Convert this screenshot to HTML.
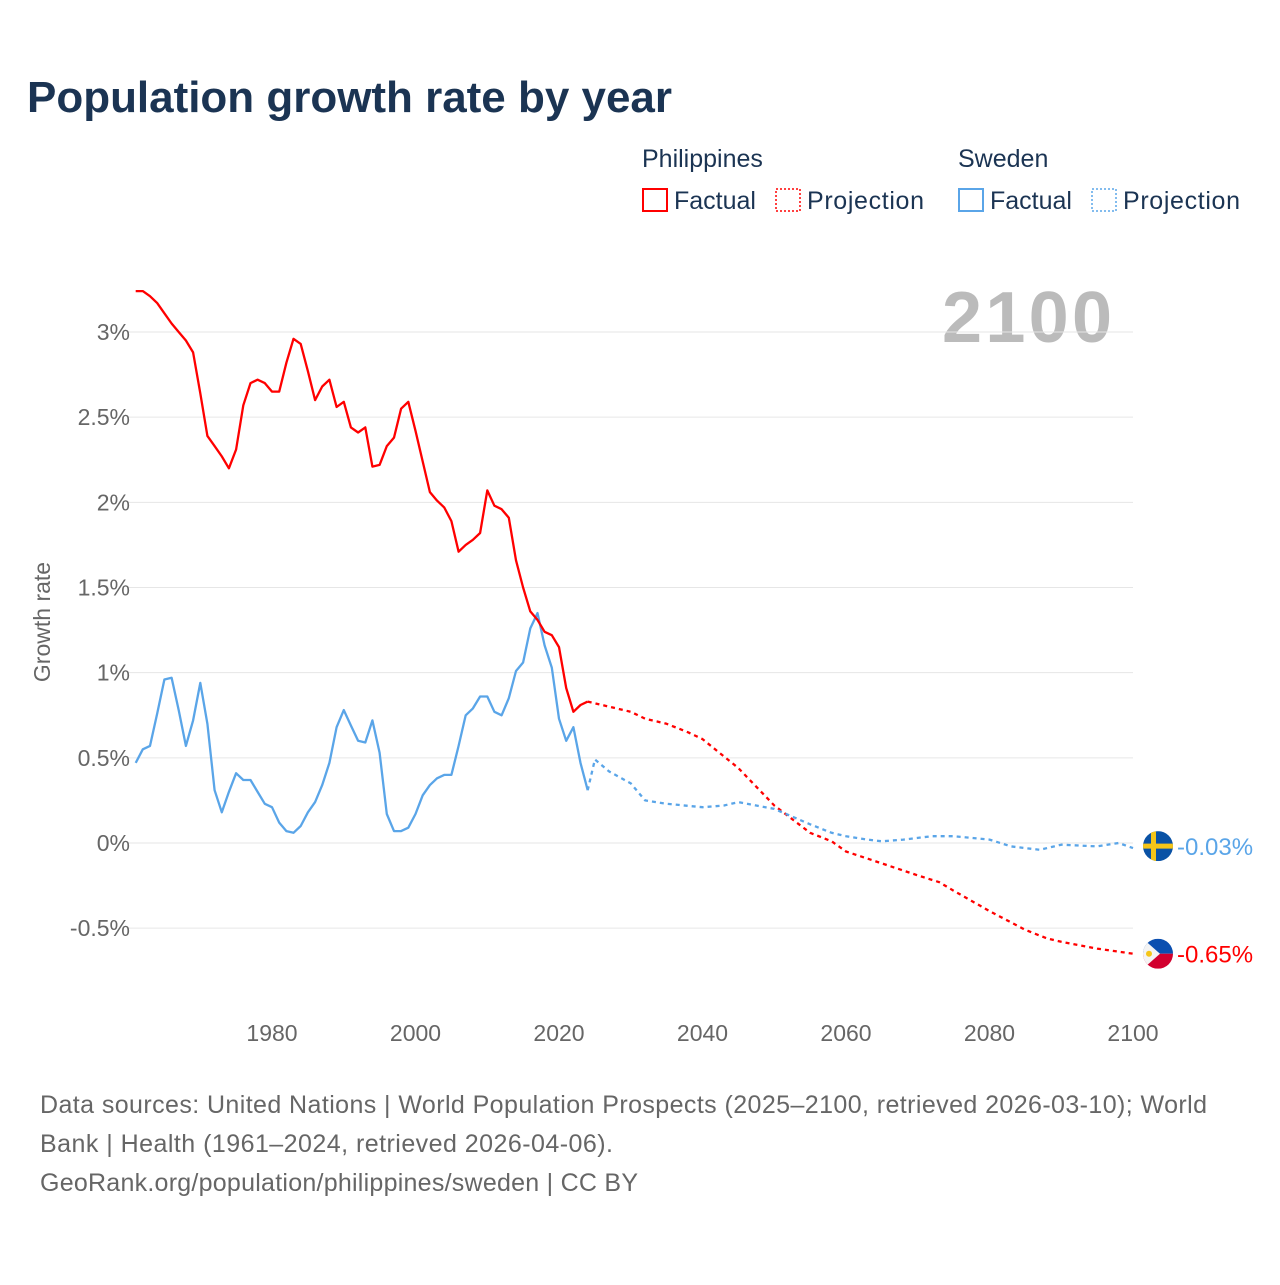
<!DOCTYPE html>
<html><head><meta charset="utf-8">
<style>
body{margin:0;background:#fff;font-family:"Liberation Sans",sans-serif;}
svg text{font-family:"Liberation Sans",sans-serif;}
</style></head>
<body>
<svg id="chart" width="1280" height="1280" viewBox="0 0 1280 1280">
<text x="27" y="112" font-size="44" font-weight="bold" fill="#1b3453" textLength="645">Population growth rate by year</text>
<g font-size="25" fill="#1b3453">
<text x="642" y="167" fill="#1b3453">Philippines</text>
<text x="958" y="167" fill="#1b3453">Sweden</text>
<g><rect x="643" y="189" width="24" height="22" fill="none" stroke="#f00" stroke-width="2"/><text x="674" y="209" fill="#1b3453">Factual</text></g>
<g><rect x="776" y="189" width="24" height="22" fill="none" stroke="#f00" stroke-width="1.5" stroke-dasharray="2,2"/><text x="807" y="209" fill="#1b3453" textLength="117">Projection</text></g>
<g><rect x="959" y="189" width="24" height="22" fill="none" stroke="#5aa5e8" stroke-width="2"/><text x="990" y="209" fill="#1b3453">Factual</text></g>
<g><rect x="1092" y="189" width="24" height="22" fill="none" stroke="#5aa5e8" stroke-width="1.5" stroke-dasharray="2,2"/><text x="1123" y="209" fill="#1b3453" textLength="117">Projection</text></g>
</g>
<text x="1112" y="342" font-size="72" font-weight="bold" fill="#bbb" text-anchor="end" textLength="170">2100</text>
<text transform="translate(50,622) rotate(-90)" font-size="23" fill="#666" text-anchor="middle">Growth rate</text>
<g id="grid"></g><g id="series"></g>
<text x="40" y="1113" font-size="25" fill="#666" textLength="1167">Data sources: United Nations | World Population Prospects (2025–2100, retrieved 2026-03-10); World</text>
<text x="40" y="1152" font-size="25" fill="#666" textLength="573">Bank | Health (1961–2024, retrieved 2026-04-06).</text>
<text x="40" y="1191" font-size="25" fill="#666" textLength="598">GeoRank.org/population/philippines/sweden | CC BY</text>
</svg>
<script>
const yTicks=[-0.5,0,0.5,1,1.5,2,2.5,3];
const yTickLabels=["-0.5%","0%","0.5%","1%","1.5%","2%","2.5%","3%"];
const xTicks=[1980,2000,2020,2040,2060,2080,2100];
const factYears=[];for(let y=1961;y<=2024;y++)factYears.push(y);
const phFactual=[3.24,3.24,3.21,3.17,3.11,3.05,3.00,2.95,2.88,2.64,2.39,2.33,2.27,2.20,2.31,2.57,2.70,2.72,2.70,2.65,2.65,2.82,2.96,2.93,2.77,2.60,2.68,2.72,2.56,2.59,2.44,2.41,2.44,2.21,2.22,2.33,2.38,2.55,2.59,2.42,2.24,2.06,2.01,1.97,1.89,1.71,1.75,1.78,1.82,2.07,1.98,1.96,1.91,1.66,1.50,1.36,1.31,1.24,1.22,1.15,0.91,0.77,0.81,0.83];
const seFactual=[0.47,0.55,0.57,0.76,0.96,0.97,0.78,0.57,0.72,0.94,0.70,0.31,0.18,0.30,0.41,0.37,0.37,0.30,0.23,0.21,0.12,0.07,0.06,0.10,0.18,0.24,0.34,0.47,0.68,0.78,0.69,0.60,0.59,0.72,0.53,0.17,0.07,0.07,0.09,0.17,0.28,0.34,0.38,0.40,0.40,0.57,0.75,0.79,0.86,0.86,0.77,0.75,0.85,1.01,1.06,1.26,1.35,1.16,1.03,0.73,0.60,0.68,0.47,0.31];
const phProjYears=[2024,2027,2030,2032,2035,2038,2040,2045,2050,2055,2058,2060,2065,2070,2073,2075,2080,2085,2088,2090,2095,2100];
const phProj=[0.83,0.80,0.77,0.73,0.70,0.65,0.61,0.44,0.22,0.06,0.01,-0.05,-0.12,-0.19,-0.23,-0.28,-0.40,-0.51,-0.56,-0.58,-0.62,-0.65];
const seProjYears=[2024,2025,2027,2030,2032,2035,2040,2043,2045,2050,2055,2058,2060,2063,2065,2068,2072,2075,2080,2083,2087,2090,2095,2098,2100];
const seProj=[0.31,0.49,0.42,0.35,0.25,0.23,0.21,0.22,0.24,0.20,0.11,0.06,0.04,0.02,0.01,0.02,0.04,0.04,0.02,-0.02,-0.04,-0.01,-0.02,0,-0.03];
const X=y=>272+(y-1980)*(1133-272)/120;
const Y=v=>843-v*170.33;
const NS="http://www.w3.org/2000/svg";
function mk(t,a){const e=document.createElementNS(NS,t);for(const k in a)e.setAttribute(k,a[k]);return e;}
const grid=document.getElementById('grid');
yTicks.forEach((v,i)=>{
 const l=mk('line',{x1:128,x2:1133,y1:Y(v),y2:Y(v),stroke:'#e6e6e6','stroke-width':1});
 
 
 grid.appendChild(l);
 const t=mk('text',{x:130,y:Y(v)+8,'font-size':23,fill:'#666','text-anchor':'end'});
 t.textContent=yTickLabels[i];
 
 
 grid.appendChild(t);
});
xTicks.forEach(v=>{
 const t=mk('text',{x:X(v),y:1041,'font-size':23,fill:'#666','text-anchor':'middle'});
 t.textContent=v;
 
 
 grid.appendChild(t);
});
const S=document.getElementById('series');
function line(xs,vs,color,dash,name){
 const d=xs.map((x,i)=>(i?'L':'M')+X(x).toFixed(1)+','+Y(vs[i]).toFixed(1)).join('');
 const p=mk('path',{d:d,fill:'none',stroke:color,'stroke-width':2.3,'stroke-linejoin':'round'});
 if(dash)p.setAttribute('stroke-dasharray',dash);
 
 
 S.appendChild(p);
}
line(phProjYears,phProj,'#f00','4,4','philippines-projection-line');
line(seProjYears,seProj,'#5aa5e8','4,4','sweden-projection-line');
line(factYears,seFactual,'#5aa5e8',null,'sweden-factual-line');
line(factYears,phFactual,'#f00',null,'philippines-factual-line');
const seEnd=seProj[seProj.length-1],phEnd=phProj[phProj.length-1];
const cx=1158;
const sy=Y(seEnd)-2;
const sg=mk('g',{});


sg.innerHTML=`<clipPath id="cs"><circle cx="${cx}" cy="${sy}" r="15"/></clipPath><g clip-path="url(#cs)"><rect x="${cx-15}" y="${sy-15}" width="30" height="30" fill="#0a52a5"/><rect x="${cx-7}" y="${sy-15}" width="5" height="30" fill="#f5c518"/><rect x="${cx-15}" y="${sy-2.5}" width="30" height="5" fill="#f5c518"/></g>`;
S.appendChild(sg);
const pg=mk('g',{});


const py=Y(phEnd);
pg.innerHTML=`<clipPath id="cp"><circle cx="${cx}" cy="${py}" r="15"/></clipPath><g clip-path="url(#cp)"><rect x="${cx-15}" y="${py-15}" width="30" height="15" fill="#0b4fb0"/><rect x="${cx-15}" y="${py}" width="30" height="15" fill="#d2002e"/><polygon points="${cx-15},${py-15} ${cx+2},${py} ${cx-15},${py+15}" fill="#f4f4f4"/><circle cx="${cx-9}" cy="${py}" r="3" fill="#f5c518"/></g>`;
S.appendChild(pg);
const t1=mk('text',{x:1177,y:sy+9,'font-size':24,fill:'#5aa5e8'});
t1.textContent='-0.03%';


S.appendChild(t1);
const t2=mk('text',{x:1177,y:py+9,'font-size':24,fill:'#f00'});
t2.textContent='-0.65%';


S.appendChild(t2);
</script>
</body></html>
